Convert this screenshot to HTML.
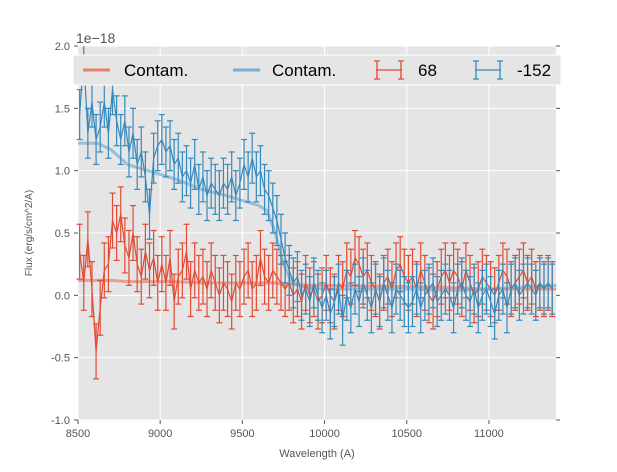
<!DOCTYPE html>
<html><head><meta charset="utf-8"><style>
body{margin:0;background:#fff;}
svg text{font-family:"Liberation Sans","DejaVu Sans",sans-serif;}
</style></head><body>
<svg id="chart" width="617" height="467" xmlns="http://www.w3.org/2000/svg">
<rect x="78" y="46" width="478" height="374" fill="#e5e5e5"/>
<g id="grid"></g>
<g id="series"></g>
<g id="axes"></g>
<text x="76" y="43" font-size="14" fill="#555">1e−18</text>
<text x="317" y="457" font-size="11" fill="#555" text-anchor="middle">Wavelength (A)</text>
<text transform="translate(32,233) rotate(-90)" font-size="10" fill="#555" text-anchor="middle">Flux (erg/s/cm^2/A)</text>
<g>
<rect x="73" y="55" width="488" height="30" fill="#e5e5e5" stroke="#fff" stroke-width="1"/>
<g><line x1="83" y1="70" x2="110" y2="70" stroke="#e8806e" stroke-width="3"/><text x="124" y="76" font-size="17" fill="#000">Contam.</text></g>
<g><line x1="233" y1="70" x2="260" y2="70" stroke="#79aed2" stroke-width="3"/><text x="272" y="76" font-size="17" fill="#000">Contam.</text></g>
<g stroke="#e24a33" stroke-width="1.3"><line x1="376" y1="70" x2="402" y2="70"/><line x1="377" y1="61" x2="377" y2="79"/><line x1="401" y1="61" x2="401" y2="79"/><line x1="374" y1="61" x2="380" y2="61"/><line x1="374" y1="79" x2="380" y2="79"/><line x1="398" y1="61" x2="404" y2="61"/><line x1="398" y1="79" x2="404" y2="79"/><text x="418" y="76" font-size="17" fill="#000" stroke="none">68</text></g>
<g stroke="#348abd" stroke-width="1.3"><line x1="475" y1="70" x2="501" y2="70"/><line x1="476" y1="61" x2="476" y2="79"/><line x1="500" y1="61" x2="500" y2="79"/><line x1="473" y1="61" x2="479" y2="61"/><line x1="473" y1="79" x2="479" y2="79"/><line x1="497" y1="61" x2="503" y2="61"/><line x1="497" y1="79" x2="503" y2="79"/><text x="517" y="76" font-size="17" fill="#000" stroke="none">-152</text></g>
</g>
</svg>
<script>
const xStart = 8510, xStep = 25;
const blueFlux = [1.45,1.9,1.3,1.55,1.25,1.35,1.55,1.3,1.65,1.4,
1.25,1.4,1.15,1.3,1.05,1.15,0.95,0.65,1.1,1.2,
1.25,1.15,1.2,1.05,1.1,0.95,1.0,0.9,1.05,0.85,
0.95,0.8,0.9,0.85,0.8,0.9,0.85,0.95,0.8,0.9,
1.05,0.95,1.1,0.95,1.0,0.85,0.8,0.7,0.6,0.45,
0.3,0.2,0.1,0.15,0.0,0.05,-0.05,0.1,0.0,-0.1,
0.0,-0.15,-0.05,0.05,-0.2,0.0,-0.1,0.05,-0.05,0.1,
0.0,-0.1,0.05,-0.05,0.1,0.0,-0.1,0.05,0.0,-0.05,
-0.1,-0.05,0.05,-0.1,0.0,0.05,0.1,-0.05,0.0,0.05,
0.0,-0.1,0.05,0.1,0.0,-0.05,0.05,-0.1,0.0,0.05,
-0.05,-0.15,0.0,0.05,-0.1,0.05,0.1,0.0,0.05,0.1,
0.05,0.0,0.1,0.05,0.1,0.05,0.1];
const redFlux = [0.35,0.1,0.45,0.05,-0.45,-0.1,0.2,0.25,0.6,0.5,
0.65,0.4,0.3,0.5,0.25,0.15,0.35,0.2,0.3,0.1,
0.25,0.1,0.3,-0.05,0.15,0.2,0.35,0.05,0.2,0.1,
0.15,0.05,0.2,0.1,0.0,0.1,0.05,-0.05,0.1,0.05,
0.15,0.2,0.05,0.1,0.3,0.15,0.1,0.2,0.15,0.1,
0.05,0.1,0.0,0.05,-0.05,0.1,0.0,0.05,-0.05,0.0,
0.1,0.0,-0.05,0.1,0.05,0.2,0.15,0.3,0.25,0.15,
0.2,0.1,0.05,-0.05,0.1,0.15,0.05,0.2,0.25,0.15,
0.1,0.15,0.05,0.2,0.1,0.0,-0.05,0.05,0.15,0.2,
0.1,0.2,0.15,0.05,0.2,0.1,0.0,0.05,0.15,0.1,
0.05,0.0,0.1,0.2,0.15,0.05,0.1,0.15,0.2,0.1,
0.15,0.05,0.1,0.05,0.1,0.05,0.1];
const blueErr = 0.2, redErr = 0.22;
const contamX = [8500,8620,8700,8800,9000,9100,9250,9400,9500,9600,9650,9700,9750,9800,9900,10000,10500,10800,11000,11410];
const contamBlue = [1.22,1.22,1.17,1.05,0.97,0.93,0.85,0.8,0.76,0.72,0.68,0.5,0.25,0.1,0.06,0.05,0.05,0.04,0.05,0.08];
const contamRed = [0.12,0.12,0.12,0.11,0.11,0.11,0.1,0.1,0.1,0.1,0.1,0.1,0.09,0.09,0.08,0.08,0.07,0.06,0.05,0.05];
const xTicks = [8500,9000,9500,10000,10500,11000];
const yTicks = [-1.0,-0.5,0.0,0.5,1.0,1.5,2.0];

const NS="http://www.w3.org/2000/svg";
const X0=78,X1=556,xmin=8500,xmax=11408,Y0=420,Y1=46,ymin=-1,ymax=2;
const sx=v=>X0+(v-xmin)/(xmax-xmin)*(X1-X0);
const sy=v=>Y0-(v-ymin)/(ymax-ymin)*(Y0-Y1);
const clip=v=>Math.max(Y1,Math.min(Y0,v));
function mk(tag,at,parent){const e=document.createElementNS(NS,tag);for(const k in at)e.setAttribute(k,at[k]);parent.appendChild(e);return e;}
const grid=document.getElementById('grid'),axes=document.getElementById('axes'),ser=document.getElementById('series');
xTicks.forEach(t=>{
 const l=mk('line',{x1:sx(t),x2:sx(t),y1:Y1,y2:Y0,stroke:'#fff','stroke-width':1},grid);
 
 
 const tk=mk('line',{x1:sx(t),x2:sx(t),y1:Y0,y2:Y0+4,stroke:'#555'},axes);
 
 
 const tx=mk('text',{x:sx(t),y:Y0+17,'font-size':11,fill:'#555','text-anchor':'middle'},axes);
 tx.textContent=t;
 
 
});
yTicks.forEach(t=>{
 const l=mk('line',{x1:X0,x2:X1,y1:sy(t),y2:sy(t),stroke:'#fff','stroke-width':1},grid);
 
 
 const tk=mk('line',{x1:X0-4,x2:X0,y1:sy(t),y2:sy(t),stroke:'#555'},axes);
 
 
 const tk2=mk('line',{x1:X1,x2:X1+4,y1:sy(t),y2:sy(t),stroke:'#555'},axes);
 
 
 const tx=mk('text',{x:X0-8,y:sy(t)+4,'font-size':11,fill:'#555','text-anchor':'end'},axes);
 tx.textContent=t.toFixed(1);
 
 
});
function contam(vals,color,name){
 const p=mk('polyline',{points:contamX.map((x,i)=>sx(x)+','+sy(vals[i])).join(' '),fill:'none',stroke:color,'stroke-width':3,'stroke-opacity':0.7},ser);
 
 
}
function errSeries(vals,err,color,name){
 const g=mk('g',{stroke:color,'stroke-width':1.2,fill:'none'},ser);
 
 
 const pts=[];
 vals.forEach((v,i)=>{
  const x=sx(xStart+i*xStep);if(x>X1)return;
  pts.push(x+','+clip(sy(v)));
  const a=sy(v+err),b=sy(v-err);
  const e=mk('line',{x1:x,x2:x,y1:clip(a),y2:clip(b)},g);
  
  
  [a,b].forEach(yy=>{if(yy>=Y1&&yy<=Y0){const c=mk('line',{x1:x-3,x2:x+3,y1:yy,y2:yy},g);
   
   }});
 });
 const p=mk('polyline',{points:pts.join(' ')},g);
 
 
}
contam(contamRed,'#e8806e','contam-red-line');
contam(contamBlue,'#79aed2','contam-blue-line');
errSeries(redFlux,redErr,'#e24a33','series-68');
errSeries(blueFlux,blueErr,'#348abd','series-minus152');
</script>
</body></html>
